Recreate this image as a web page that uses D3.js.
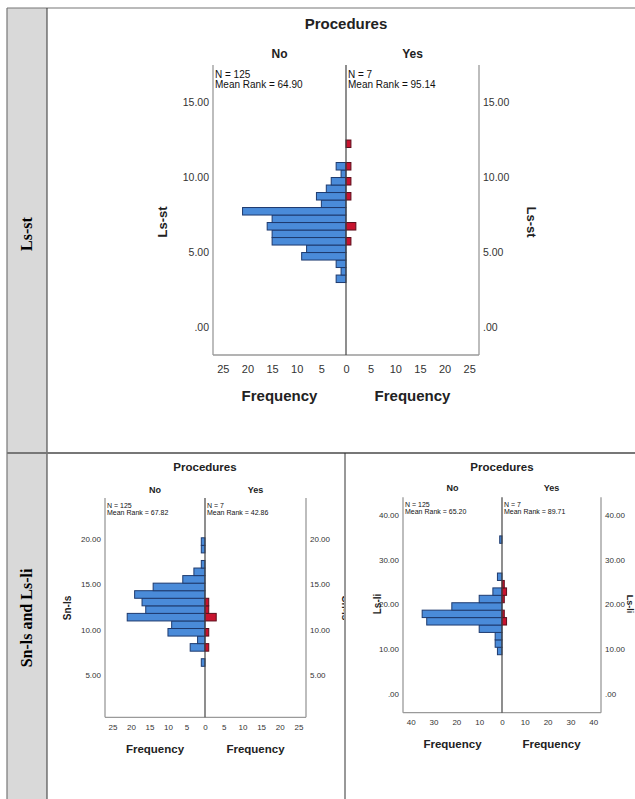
<!DOCTYPE html>
<html><head><meta charset="utf-8">
<script src="https://cdn.jsdelivr.net/npm/d3@7"></script>
<style>body{margin:0;background:#fff}svg{display:block}</style>
</head><body>
<script>
// ---------- DATA ----------
const groups = ["No", "Yes"];
const rowLabels = ["Ls-st", "Sn-ls and Ls-li"];

// Ls-st (top)
const lsStBinWidth = 0.5;
const lsStBins = [3.0,3.5,4.0,4.5,5.0,5.5,6.0,6.5,7.0,7.5,8.0,8.5,9.0,9.5,10.0,10.5,12.0];
const lsStNo   = [2,1,2,9,8,15,15,16,15,21,5,6,4,3,1,2,0];
const lsStYes  = [0,0,0,0,0,1,0,2,0,0,0,1,0,1,0,1,1];
const lsStStats = ["N = 125|Mean Rank = 64.90", "N = 7|Mean Rank = 95.14"];
const lsStYTicks = [0,5,10,15];
const lsStXTicks = [25,20,15,10,5,0];

// Sn-ls (bottom left)
const snLsBinWidth = 0.83;
const snLsBins = [6.00,6.83,7.66,8.49,9.32,10.15,10.98,11.81,12.64,13.47,14.30,15.13,15.96,16.79,17.62,18.45,19.28];
const snLsNo   = [1,0,4,2,10,9,21,16,17,19,14,6,3,1,0,1,1];
const snLsYes  = [0,0,1,0,1,0,3,1,1,0,0,0,0,0,0,0,0];
const snLsStats = ["N = 125|Mean Rank = 67.82", "N = 7|Mean Rank = 42.86"];
const snLsYTicks = [5,10,15,20];
const snLsXTicks = [25,20,15,10,5,0];

// Ls-li (bottom right)
const lsLiBinWidth = 1.665;
const lsLiBins = [8.70,10.37,12.03,13.70,15.36,17.03,18.69,20.36,22.02,23.69,25.35,27.02,28.68,30.35,32.01,33.68];
const lsLiNo   = [2,3,3,10,33,35,22,10,4,0,2,0,0,0,0,1];
const lsLiYes  = [0,0,0,0,2,1,0,1,2,1,0,0,0,0,0,0];
const lsLiStats = ["N = 125|Mean Rank = 65.20", "N = 7|Mean Rank = 89.71"];
const lsLiYTicks = [0,10,20,30,40];
const lsLiXTicks = [40,30,20,10,0];

// ---------- DRAW ----------
const W = 635, H = 799;
const SANS = "'Liberation Sans', Arial, sans-serif";
const SERIF = "'Liberation Serif', 'Times New Roman', serif";
const svg = d3.select("body").append("svg").attr("width", W).attr("height", H);

// table frame
svg.append("rect").attr("x", 7).attr("y", 8).attr("width", 40).attr("height", H - 8).attr("fill", "#d9d9d9");
const frame = [
  [7, 8, W, 8, "#777", 1.2],
  [7, 8, 7, H, "#777", 1.2],
  [47, 8, 47, H, "#333", 1],
  [7, 453, W, 453, "#777", 2],
  [345, 453, 345, H, "#333", 1]
];
frame.forEach(f => svg.append("line").attr("x1", f[0]).attr("y1", f[1]).attr("x2", f[2]).attr("y2", f[3])
  .attr("stroke", f[4]).attr("stroke-width", f[5]));

svg.append("text").attr("transform", "translate(32,234) rotate(-90)").attr("text-anchor", "middle")
  .attr("font-family", SERIF).attr("font-weight", "bold").attr("font-size", 16).text(rowLabels[0]);
svg.append("text").attr("transform", "translate(32,618) rotate(-90)").attr("text-anchor", "middle")
  .attr("font-family", SERIF).attr("font-weight", "bold").attr("font-size", 16).text(rowLabels[1]);

const fmtY = v => v === 0 ? ".00" : d3.format(".2f")(v);

function pyramid(g, o) {
  const xl = d3.scaleLinear().domain([o.xmax, 0]).range([o.left, o.cx]);
  const xr = d3.scaleLinear().domain([0, o.xmax]).range([o.cx, o.right]);
  const y = d3.scaleLinear().domain(o.ydom).range([o.bottom, o.top]);

  // title & group labels
  g.append("text").attr("x", o.cx).attr("y", o.titleY).attr("text-anchor", "middle")
    .attr("font-family", SANS).attr("font-weight", "bold").attr("font-size", o.fs.title).attr("fill", "#222").text("Procedures");
  g.append("text").attr("x", (o.left + o.cx) / 2).attr("y", o.groupY).attr("text-anchor", "middle")
    .attr("font-family", SANS).attr("font-weight", "bold").attr("font-size", o.fs.group).attr("fill", "#222").text(groups[0]);
  g.append("text").attr("x", (o.cx + o.right) / 2).attr("y", o.groupY).attr("text-anchor", "middle")
    .attr("font-family", SANS).attr("font-weight", "bold").attr("font-size", o.fs.group).attr("fill", "#222").text(groups[1]);

  // bars
  const barsNo = o.bins.map((b, i) => ({ b, c: o.no[i] })).filter(d => d.c > 0);
  const barsYes = o.bins.map((b, i) => ({ b, c: o.yes[i] })).filter(d => d.c > 0);
  g.selectAll(null).data(barsNo).enter().append("rect")
    .attr("x", d => xl(d.c)).attr("width", d => xl(0) - xl(d.c))
    .attr("y", d => y(d.b + o.bw)).attr("height", d => y(d.b) - y(d.b + o.bw))
    .attr("fill", "#4a8bd9").attr("stroke", "#1e3a6e").attr("stroke-width", 1);
  g.selectAll(null).data(barsYes).enter().append("rect")
    .attr("x", xr(0)).attr("width", d => xr(d.c) - xr(0))
    .attr("y", d => y(d.b + o.bw)).attr("height", d => y(d.b) - y(d.b + o.bw))
    .attr("fill", "#c8142f").attr("stroke", "#5c0f1c").attr("stroke-width", 1);

  // frame lines
  const ln = (x1, y1, x2, y2, c, w) => g.append("line").attr("x1", x1).attr("y1", y1).attr("x2", x2).attr("y2", y2)
    .attr("stroke", c).attr("stroke-width", w);
  ln(o.left, o.top, o.left, o.bottom, "#9a9a9a", 1.3);
  ln(o.right, o.top, o.right, o.bottom, "#9a9a9a", 1.3);
  ln(o.left, o.bottom, o.right, o.bottom, "#9a9a9a", 1.3);
  ln(o.cx, o.top, o.cx, o.bottom, "#444", 1.2);

  // stats
  o.stats.forEach((s, k) => {
    const lines = s.split("|");
    const x0 = k === 0 ? o.left + 2 : o.cx + 2;
    lines.forEach((t, j) => g.append("text").attr("x", x0).attr("y", o.statY + j * o.statGap)
      .attr("font-family", SANS).attr("font-size", o.fs.stat).attr("fill", "#111").text(t));
  });

  // y axes (left & right)
  const ya = g.append("g").attr("transform", `translate(${o.left - 4},0)`)
    .call(d3.axisLeft(y).tickValues(o.yticks).tickFormat(fmtY).tickSize(0).tickPadding(0));
  const yb = g.append("g").attr("transform", `translate(${o.right + 4},0)`)
    .call(d3.axisRight(y).tickValues(o.yticks).tickFormat(fmtY).tickSize(0).tickPadding(0));
  [ya, yb].forEach(a => {
    a.select(".domain").remove();
    a.selectAll("text").attr("font-family", SANS).attr("font-size", o.fs.tick).attr("fill", "#333");
  });

  // x axes (left mirrored & right)
  const xa = g.append("g").attr("transform", `translate(0,${o.bottom + 2})`)
    .call(d3.axisBottom(xl).tickValues(o.xticks).tickSize(0).tickPadding(o.xpad));
  const xb = g.append("g").attr("transform", `translate(0,${o.bottom + 2})`)
    .call(d3.axisBottom(xr).tickValues(o.xticks.filter(v => v > 0)).tickSize(0).tickPadding(o.xpad));
  [xa, xb].forEach(a => {
    a.select(".domain").remove();
    a.selectAll("text").attr("font-family", SANS).attr("font-size", o.fs.xtick).attr("fill", "#333");
  });

  // Frequency labels
  [(o.left + o.cx) / 2, (o.cx + o.right) / 2].forEach(xx =>
    g.append("text").attr("x", xx).attr("y", o.freqY).attr("text-anchor", "middle")
      .attr("font-family", SANS).attr("font-weight", "bold").attr("font-size", o.fs.freq).attr("fill", "#222").text("Frequency"));

  // variable labels
  const ymid = o.ylabY;
  g.append("text").attr("transform", `translate(${o.ylabL},${ymid}) rotate(-90)`).attr("text-anchor", "middle")
    .attr("font-family", SANS).attr("font-weight", "bold").attr("font-size", o.fs.ylab).attr("fill", "#222").text(o.varName);
  g.append("text").attr("transform", `translate(${o.ylabR},${ymid}) rotate(90)`).attr("text-anchor", "middle")
    .attr("font-family", SANS).attr("font-weight", "bold").attr("font-size", o.fs.ylabR || o.fs.ylab).attr("fill", "#222").text(o.varName);
}

// clip paths for cells
const defs = svg.append("defs");
defs.append("clipPath").attr("id", "cellL").append("rect").attr("x", 48).attr("y", 454).attr("width", 296).attr("height", 345);
defs.append("clipPath").attr("id", "cellR").append("rect").attr("x", 346).attr("y", 454).attr("width", 289).attr("height", 345);

pyramid(svg.append("g"), {
  varName: "Ls-st", bins: lsStBins, no: lsStNo, yes: lsStYes, bw: lsStBinWidth, stats: lsStStats,
  yticks: lsStYTicks, xticks: lsStXTicks, xmax: 27,
  left: 213, cx: 346, right: 479, top: 65, bottom: 355, ydom: [-1.83, 17.5],
  titleY: 29, groupY: 58, statY: 78, statGap: 10, xpad: 8, freqY: 401,
  ylabL: 167, ylabR: 527, ylabY: 222,
  fs: { title: 15, group: 12, stat: 10, tick: 10.5, xtick: 11, freq: 15, ylab: 13 }
});

pyramid(svg.append("g").attr("clip-path", "url(#cellL)"), {
  varName: "Sn-ls", bins: snLsBins, no: snLsNo, yes: snLsYes, bw: snLsBinWidth, stats: snLsStats,
  yticks: snLsYTicks, xticks: snLsXTicks, xmax: 27,
  left: 105, cx: 205, right: 306, top: 498, bottom: 717.3, ydom: [0.4, 24.48],
  titleY: 471, groupY: 493, statY: 507.5, statGap: 7.5, xpad: 5, freqY: 753,
  ylabL: 71, ylabR: 342, ylabY: 608,
  fs: { title: 11.5, group: 9, stat: 7, tick: 8, xtick: 8, freq: 11.5, ylab: 10 }
});

pyramid(svg.append("g").attr("clip-path", "url(#cellR)"), {
  varName: "Ls-li", bins: lsLiBins, no: lsLiNo, yes: lsLiYes, bw: lsLiBinWidth, stats: lsLiStats,
  yticks: lsLiYTicks, xticks: lsLiXTicks, xmax: 43.4,
  left: 403, cx: 502, right: 601, top: 497.3, bottom: 712.7, ydom: [-4.3, 44.0],
  titleY: 471, groupY: 491, statY: 506.5, statGap: 7.5, xpad: 5, freqY: 748,
  ylabL: 381, ylabR: 627, ylabY: 604,
  fs: { title: 11.5, group: 9, stat: 7, tick: 8, xtick: 8, freq: 11.5, ylab: 10, ylabR: 9 }
});
</script>
</body></html>
